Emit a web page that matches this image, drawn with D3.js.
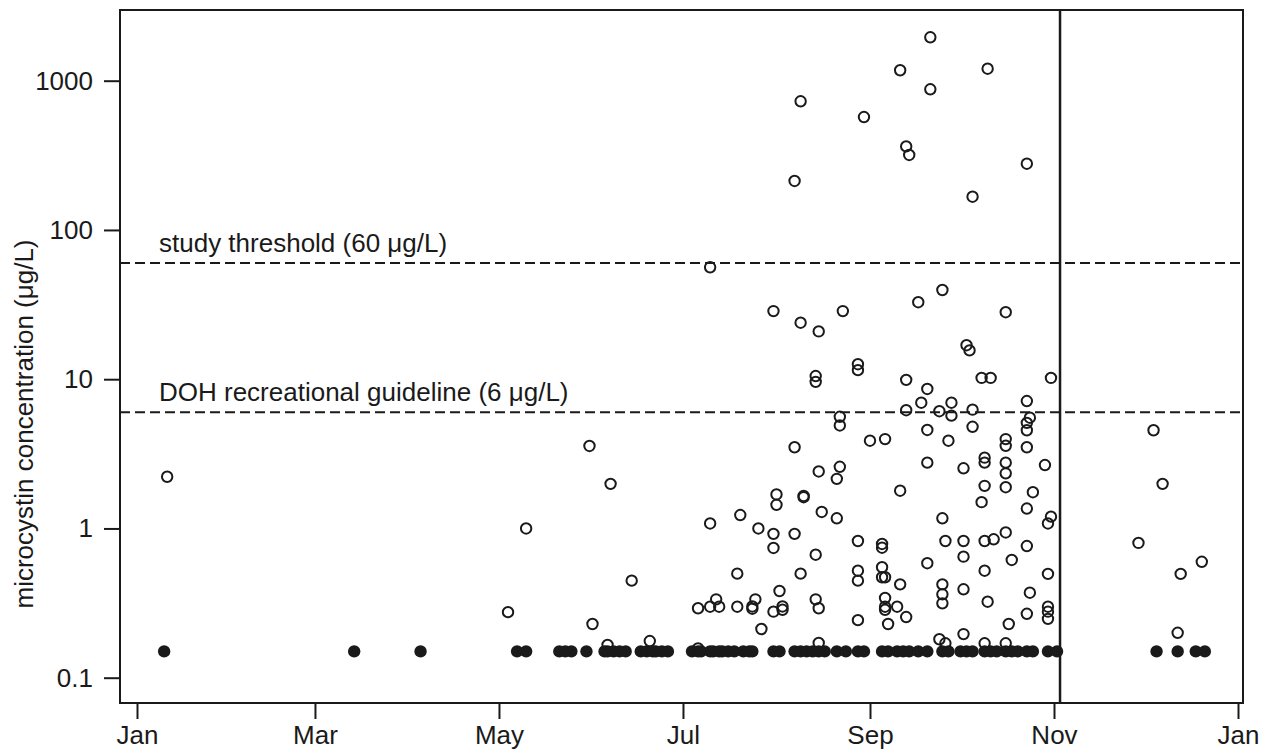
<!doctype html>
<html>
<head>
<meta charset="utf-8">
<script src="https://cdn.jsdelivr.net/npm/d3@7"></script>
<style>
    html, body { margin: 0; padding: 0; background: #fff; }
    #viz text { font-family: "Liberation Sans", Arial, sans-serif; fill: #1a1a1a; }
</style>
</head>
<body>
<div id="viz"></div>
<script>
// sampling day = days after Jan 1
var year = 2013;
var nonDetectValue = 0.15;
var nonDetectDay = [9, 72, 94, 126, 129, 140, 142, 144, 149, 155, 156, 158, 160, 162, 167, 169, 171, 172,
    174, 176, 184, 186, 187, 190, 191, 193, 194, 196, 198, 201, 203, 204, 211, 213, 218, 220, 222, 224,
    226, 228, 232, 235, 239, 241, 247, 249, 252, 254, 256, 259, 262, 267, 269, 273, 275, 277, 281, 283,
    285, 288, 290, 292, 295, 297, 302, 305, 338, 345, 351, 354];

var detectDay = [10, 123, 129, 150, 151, 156, 157, 164, 170, 186, 186, 190, 190, 190, 192, 193, 199, 199,
    200, 204, 204, 205, 206, 207, 211, 211, 211, 211, 212, 212, 213, 214, 214, 218, 218, 218, 220, 220,
    220, 221, 221, 225, 225, 225, 225, 226, 226, 226, 226, 227, 232, 232, 233, 233, 233, 234, 239, 239,
    239, 239, 239, 239, 241, 243, 247, 247, 247, 247, 248, 248, 248, 248, 248, 249, 252, 253, 253, 253,
    255, 255, 255, 255, 256, 259, 260, 262, 262, 262, 262, 263, 263, 266, 266, 267, 267, 267, 267, 267,
    268, 268, 269, 270, 270, 274, 274, 274, 274, 274, 275, 276, 277, 277, 277, 280, 280, 281, 281, 281,
    281, 281, 281, 282, 282, 283, 284, 288, 288, 288, 288, 288, 288, 288, 288, 289, 290, 295, 295, 295,
    295, 295, 295, 295, 295, 296, 296, 297, 301, 302, 302, 302, 302, 302, 303, 303, 332, 337, 340, 345,
    346, 353];
var detectValue = [2.22, 0.275, 1.0, 3.57, 0.229, 0.166, 1.99, 0.447, 0.176, 0.292, 0.157, 56.2, 1.08, 0.299, 0.335, 0.299, 0.498, 0.299,
    1.23, 0.30, 0.29, 0.335, 1.0, 0.212, 28.6, 0.92, 0.74, 0.277, 1.69, 1.44, 0.381, 0.30, 0.285, 213, 3.5, 0.92, 728, 23.9,
    0.498, 1.65, 1.62, 10.5, 9.6, 0.667, 0.335, 20.9, 2.41, 0.292, 0.171, 1.29, 2.15, 1.17, 5.6, 4.9, 2.59, 28.6, 12.6, 11.5,
    0.824, 0.521, 0.447, 0.243, 571, 3.87, 0.787, 0.743, 0.55, 0.471, 3.97, 0.471, 0.342, 0.299, 0.285, 0.229, 0.299, 1175, 1.79, 0.422,
    363, 9.9, 6.2, 0.255, 318, 32.8, 6.96, 8.6, 4.57, 2.76, 0.585, 1954, 876, 6.1, 0.181, 39.6, 1.17, 0.422, 0.362, 0.315,
    0.824, 0.170, 3.87, 6.96, 5.7, 2.53, 0.824, 0.647, 0.391, 0.196, 16.9, 15.6, 167, 6.25, 4.8, 10.2, 1.5, 2.98, 2.76, 1.93,
    0.824, 0.521, 0.170, 1203, 0.323, 10.2, 0.846, 28.1, 3.97, 3.58, 2.76, 2.34, 1.89, 0.94, 0.170, 0.229, 0.615, 278, 7.14, 5.1,
    4.55, 3.5, 1.36, 0.762, 0.268, 5.52, 0.371, 1.75, 2.66, 1.08, 0.496, 0.299, 0.277, 0.248, 10.2, 1.2, 0.80, 4.55, 1.99, 0.20,
    0.496, 0.598];

var guideValues = [60, 6];
var guideLabels = ["study threshold (60 \u03bcg/L)", "DOH recreational guideline (6 \u03bcg/L)"];
var seasonEndDay = 306;
var yTicks = [0.1, 1, 10, 100, 1000];
var monthTicks = [0, 2, 4, 6, 8, 10, 12];
var yTitle = "microcystin concentration (\u03bcg/L)";

var W = 1269, H = 752;
var box = { left: 120, right: 1243, top: 10, bottom: 703 };
var ink = "#1a1a1a";
var fontSize = 26;

var toDate = function (d) { return d3.timeDay.offset(new Date(year, 0, 1), d); };

var x = d3.scaleTime()
    .domain([new Date(year, 0, 1), new Date(year + 1, 0, 1)])
    .range([137, 1238]);
var y = d3.scaleLog()
    .domain([0.1, 1000])
    .range([677.7, 80.7]);

var svg = d3.select("#viz").append("svg")
    .attr("width", W)
    .attr("height", H);

// guideline dashes
svg.selectAll("line.guide")
    .data(guideValues)
    .enter()
    .append("line")
        .attr("class", "guide")
        .attr("x1", box.left)
        .attr("x2", box.right)
        .attr("y1", function (d) { return y(d); })
        .attr("y2", function (d) { return y(d); })
        .attr("stroke", ink)
        .attr("stroke-width", 2)
        .attr("stroke-dasharray", "10,5");

svg.selectAll("text.guide")
    .data(guideValues)
    .enter()
    .append("text")
        .attr("class", "guide")
        .attr("x", 159)
        .attr("y", function (d) { return y(d) - 11; })
        .style("font-size", fontSize + "px")
        .text(function (d, i) { return guideLabels[i]; });

svg.append("line")
    .attr("x1", x(toDate(seasonEndDay)))
    .attr("x2", x(toDate(seasonEndDay)))
    .attr("y1", box.top)
    .attr("y2", box.bottom)
    .attr("stroke", ink)
    .attr("stroke-width", 2.5);

// non detects
svg.selectAll("circle.nd")
    .data(nonDetectDay)
    .enter()
    .append("circle")
        .attr("class", "nd")
        .attr("cx", function (d) { return x(toDate(d)); })
        .attr("cy", y(nonDetectValue))
        .attr("r", 6.2)
        .attr("fill", ink);

svg.selectAll("circle.det")
    .data(detectDay)
    .enter()
    .append("circle")
        .attr("class", "det")
        .attr("cx", function (d) { return x(toDate(d)); })
        .attr("cy", function (d, i) { return y(detectValue[i]); })
        .attr("r", 5.2)
        .attr("fill", "none")
        .attr("stroke", ink)
        .attr("stroke-width", 2);

svg.append("rect")
    .attr("x", box.left)
    .attr("y", box.top)
    .attr("width", box.right - box.left)
    .attr("height", box.bottom - box.top)
    .attr("fill", "none")
    .attr("stroke", ink)
    .attr("stroke-width", 2);

var yAxis = d3.axisLeft(y)
    .tickValues(yTicks)
    .tickFormat(function (d) { return String(d); })
    .tickSize(16)
    .tickPadding(11);

var gy = svg.append("g")
    .attr("transform", "translate(" + box.left + ",0)")
    .call(yAxis);

var xAxis = d3.axisBottom(x)
    .tickValues(monthTicks.map(function (m) { return new Date(year, m, 1); }))
    .tickFormat(d3.timeFormat("%b"))
    .tickSize(16)
    .tickPadding(7);

var gx = svg.append("g")
    .attr("transform", "translate(0," + box.bottom + ")")
    .call(xAxis);

[gx, gy].forEach(function (g) {
    g.select(".domain").remove();
    g.selectAll(".tick line").attr("stroke", ink).attr("stroke-width", 2);
    g.selectAll(".tick text").style("font-size", fontSize + "px");
    g.attr("font-family", null);
});

svg.append("text")
    .attr("transform", "translate(33,424) rotate(-90)")
    .attr("text-anchor", "middle")
    .style("font-size", fontSize + "px")
    .text(yTitle);
</script>
</body>
</html>
